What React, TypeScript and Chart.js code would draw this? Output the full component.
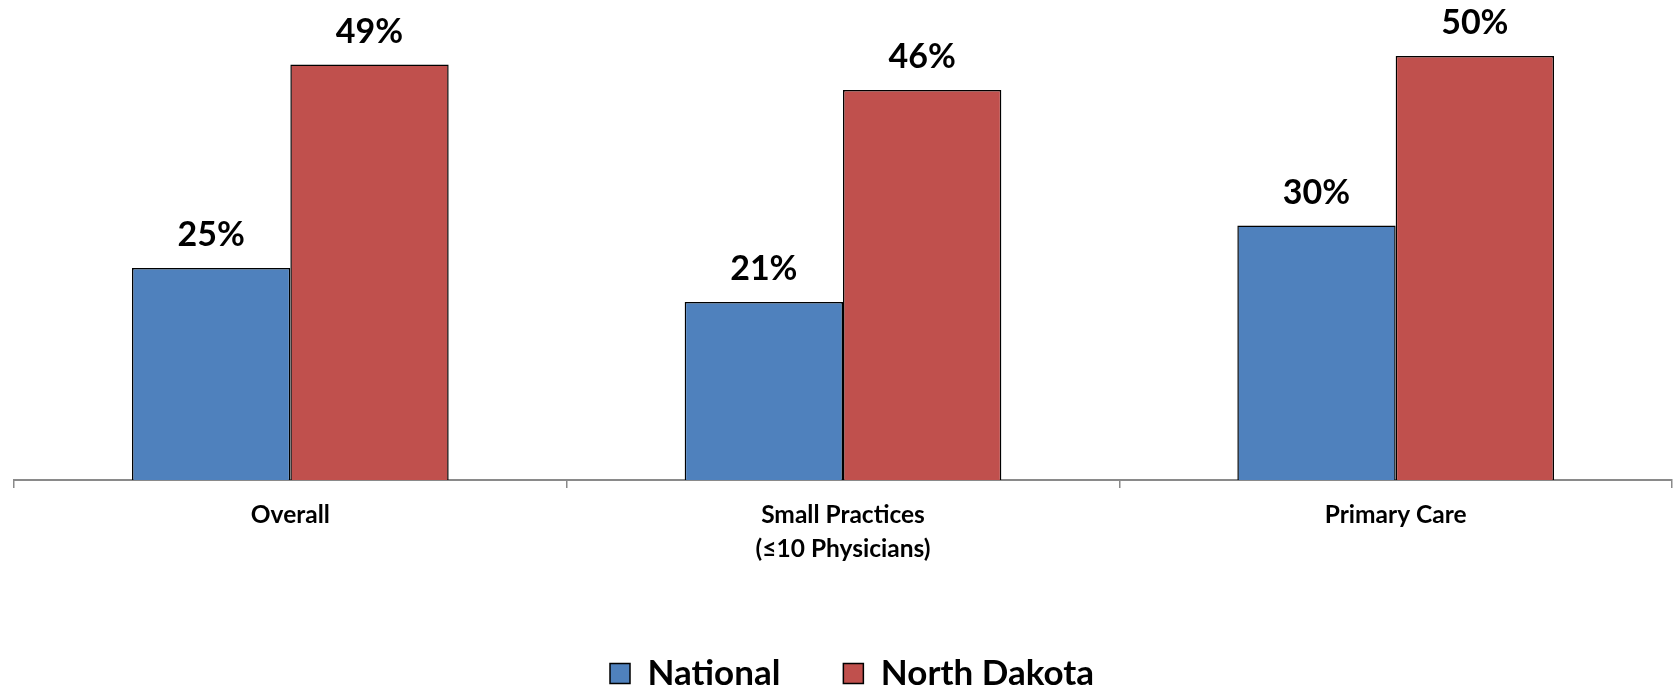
import React, { useEffect, useRef } from "react";
import { Chart, registerables } from "chart.js";

Chart.register(...registerables);

const categories: (string | string[])[] = [
  "Overall",
  ["Small Practices", "(≤10 Physicians)"],
  "Primary Care",
];
const nationalValues = [25, 21, 30];
const northDakotaValues = [49, 46, 50];
const seriesNames = ["National", "North Dakota"];

const FONT = "Lato, 'Open Sans', 'DejaVu Sans', sans-serif";

const valueLabels = {
  id: "valueLabels",
  afterDatasetsDraw(chart: any) {
    const ctx = chart.ctx;
    ctx.save();
    ctx.fillStyle = "#000";
    ctx.font = `bold 34px ${FONT}`;
    ctx.textAlign = "center";
    ctx.textBaseline = "alphabetic";
    chart.data.datasets.forEach((ds: any, di: number) => {
      const meta = chart.getDatasetMeta(di);
      meta.data.forEach((el: any, i: number) => {
        ctx.fillText(`${ds.data[i]}%`, el.x, el.y - 21.5);
      });
    });
    ctx.restore();
  },
};

const legendShift = {
  id: "legendShift",
  afterLayout(chart: any) {
    if (chart.legend) {
      chart.legend.left += 9;
      chart.legend.right += 9;
    }
  },
};

export default function App() {
  const ref = useRef<HTMLCanvasElement | null>(null);
  useEffect(() => {
    if (!ref.current) return;
    const chart = new Chart(ref.current, {
      type: "bar",
      data: {
        labels: categories,
        datasets: [
          {
            label: seriesNames[0],
            data: nationalValues,
            backgroundColor: "#4F81BD",
            borderColor: "#000",
            borderWidth: 1.5,
          },
          {
            label: seriesNames[1],
            data: northDakotaValues,
            backgroundColor: "#C0504D",
            borderColor: "#000",
            borderWidth: 1.5,
          },
        ],
      },
      options: {
        animation: false,
        responsive: true,
        maintainAspectRatio: false,
        layout: { padding: { left: 14, right: 1, top: 0, bottom: -11 } },
        datasets: { bar: { categoryPercentage: 0.573, barPercentage: 1 } },
        plugins: {
          tooltip: { enabled: false },
          legend: {
            position: "bottom",
            labels: {
              color: "#000",
              font: { family: FONT, size: 35, weight: "bold" },
              boxWidth: 20,
              boxHeight: 20,
              padding: 63,
              generateLabels: (c: any) =>
                c.data.datasets.map((ds: any, i: number) => ({
                  text: ds.label,
                  fillStyle: ds.backgroundColor,
                  strokeStyle: "#000",
                  lineWidth: 1.5,
                  fontColor: "#000",
                  datasetIndex: i,
                  hidden: false,
                })),
            },
          },
        },
        scales: {
          x: {
            afterFit: (s: any) => {
              s.height = 113;
            },
            grid: {
              display: true,
              drawOnChartArea: false,
              offset: true,
              tickLength: 8,
              color: "#8a8a8a",
              lineWidth: 1.5,
            },
            border: { display: true, color: "#8a8a8a", width: 2 },
            ticks: {
              color: "#000",
              padding: 10,
              font: { family: FONT, size: 24.5, weight: "bold", lineHeight: 34 / 24.5 },
            },
          },
          y: {
            display: false,
            min: 0,
            max: 56.6,
          },
        },
      },
      plugins: [valueLabels, legendShift],
    });
    return () => chart.destroy();
  }, []);
  return (
    <div style={{ position: "fixed", left: 0, top: 0, width: 1673, height: 690, background: "#fff" }}>
      <canvas ref={ref} />
    </div>
  );
}
